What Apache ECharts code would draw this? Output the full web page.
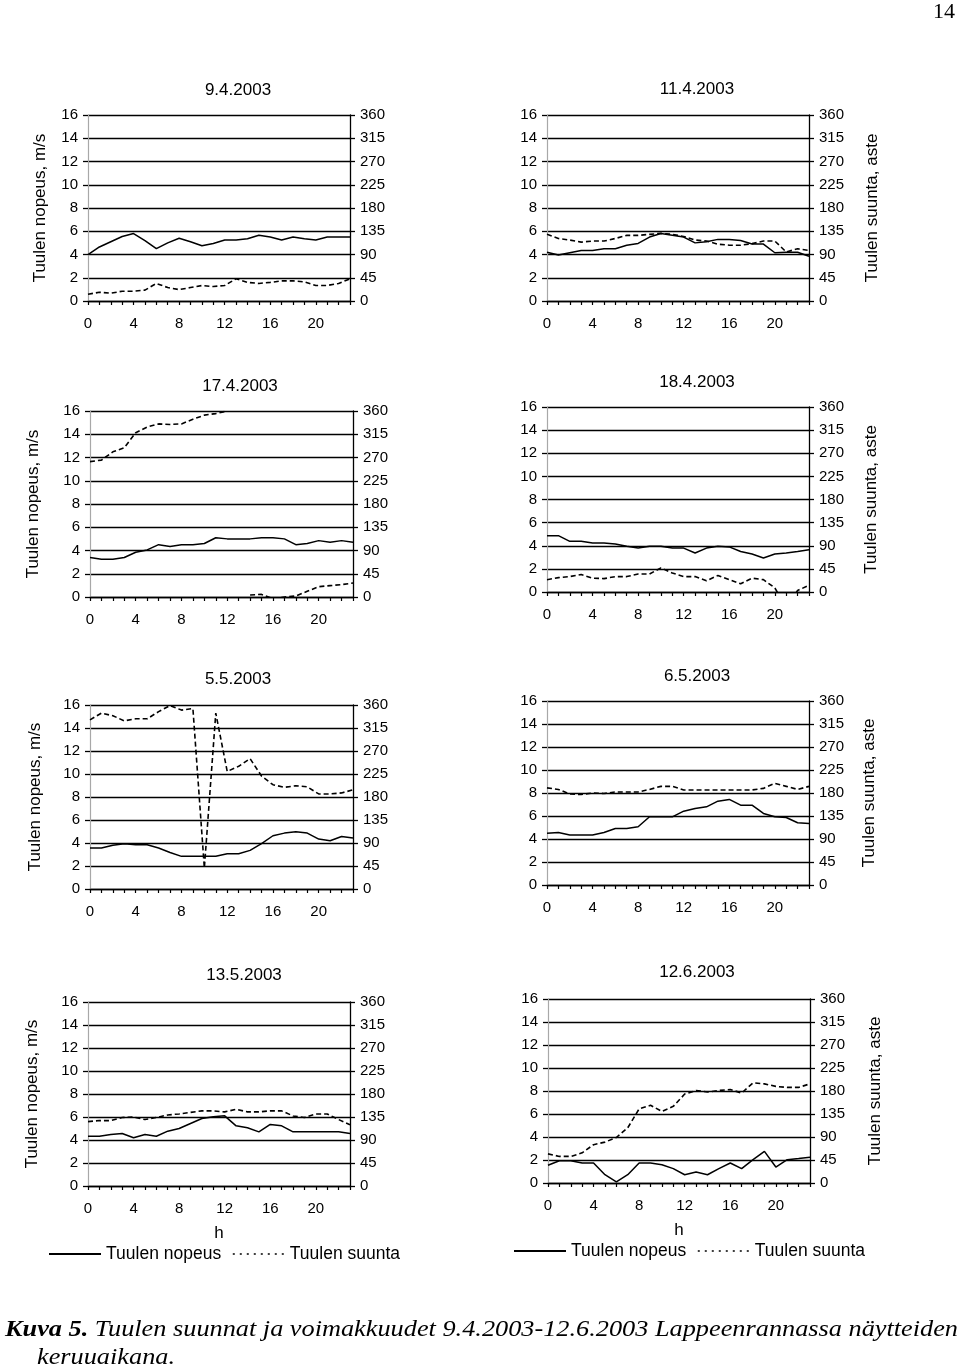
<!DOCTYPE html>
<html>
<head>
<meta charset="utf-8">
<script src="https://cdn.jsdelivr.net/npm/echarts@6/dist/echarts.min.js"></script>
<style>
html,body{margin:0;padding:0;background:#fff;}
#c{position:absolute;left:0;top:0;width:960px;height:1368px;}
.cap{position:absolute;font-family:"Liberation Serif","Times New Roman",serif;font-style:italic;color:#000;white-space:nowrap;transform-origin:0 50%;}
#pg{position:absolute;left:933px;top:-2px;font-family:"Liberation Serif","Times New Roman",serif;font-size:22px;color:#000;}
</style>
</head>
<body>
<div id="c"></div>
<div id="pg">14</div>
<div id="cap1" class="cap" style="left:5px;top:1315px;font-size:24px;"><b>Kuva 5.</b> Tuulen suunnat ja voimakkuudet 9.4.2003-12.6.2003 Lappeenrannassa näytteiden</div>
<div id="cap2" class="cap" style="left:37px;top:1343px;font-size:24px;">keruuaikana.</div>
<script>
// ---- data ----
const hours = ['0','1','2','3','4','5','6','7','8','9','10','11','12','13','14','15','16','17','18','19','20','21','22','23'];
const leftTicks = [0,2,4,6,8,10,12,14,16];
const rightTicks = [0,45,90,135,180,225,270,315,360];
const titles = ['9.4.2003','11.4.2003','17.4.2003','18.4.2003','5.5.2003','6.5.2003','13.5.2003','12.6.2003'];

const speed_0904 = [4.0,4.65,5.1,5.55,5.8,5.2,4.5,5.0,5.4,5.1,4.75,4.95,5.25,5.25,5.35,5.65,5.5,5.25,5.5,5.35,5.25,5.5,5.5,5.5];
const dir_0904   = [13,17,15,19,19,21,34,26,22,26,30,28,30,43,36,34,36,39,39,37,30,30,34,43];

const speed_1104 = [4.2,3.95,4.15,4.35,4.35,4.5,4.5,4.8,4.95,5.5,5.8,5.65,5.5,5.0,5.1,5.3,5.3,5.2,4.9,4.9,4.15,4.2,4.2,3.85];
const dir_1104   = [129,121,118,114,116,116,121,127,127,129,131,129,125,118,116,110,108,108,111,116,116,95,101,98];

const speed_1704 = [3.4,3.25,3.25,3.4,3.85,4.05,4.5,4.35,4.5,4.5,4.6,5.1,5.0,5.0,5.0,5.1,5.1,5.0,4.5,4.6,4.85,4.7,4.85,4.7];
const dir_1704   = [262,265,281,289,318,329,335,334,335,344,352,355,360,null,4,5,-3,0,2,11,20,22,24,27];

const speed_1804 = [4.87,4.87,4.38,4.38,4.24,4.24,4.15,3.95,3.8,3.95,3.95,3.8,3.8,3.37,3.8,3.95,3.9,3.5,3.28,2.94,3.28,3.37,3.5,3.66];
const dir_1804   = [24,28,30,34,27,26,30,30,35,35,47,37,30,30,22,32,24,16,27,24,8,-30,3,13];

const speed_0505 = [3.56,3.56,3.8,3.94,3.85,3.85,3.56,3.18,2.84,2.84,2.84,2.84,3.07,3.07,3.36,3.94,4.63,4.86,4.98,4.86,4.34,4.2,4.57,4.43];
const dir_0505   = [331,344,339,329,333,333,347,359,350,353,41,344,230,240,255,221,204,199,202,200,186,186,188,194];

const speed_0605 = [4.49,4.57,4.34,4.34,4.34,4.57,4.92,4.92,5.06,5.93,5.93,5.93,6.42,6.66,6.8,7.29,7.44,6.94,6.94,6.22,5.93,5.87,5.41,5.35];
const dir_0605   = [190,187,178,177,180,179,182,182,182,187,193,193,186,186,186,186,186,186,186,189,199,193,187,193];

const speed_1305 = [4.33,4.33,4.48,4.56,4.19,4.48,4.33,4.77,5.0,5.44,5.87,6.02,6.1,5.23,5.06,4.71,5.35,5.23,4.71,4.71,4.71,4.71,4.71,4.56];
const dir_1305   = [126,128,128,134,135,130,134,139,141,144,147,147,145,150,145,145,147,147,137,134,141,141,130,120];

const speed_1206 = [1.54,1.94,1.94,1.74,1.74,0.72,0.09,0.72,1.74,1.74,1.59,1.25,0.72,0.96,0.72,1.25,1.74,1.25,2.03,2.75,1.39,2.03,2.12,2.23];
const dir_1206   = [57,52,52,59,75,80,89,108,145,152,140,150,174,181,178,181,183,176,196,194,189,187,187,194];

const speedSeries = [speed_0904,speed_1104,speed_1704,speed_1804,speed_0505,speed_0605,speed_1305,speed_1206];
const dirSeries   = [dir_0904,dir_1104,dir_1704,dir_1804,dir_0505,dir_0605,dir_1305,dir_1206];
const nameSpeed = 'Tuulen nopeus';
const nameDir = 'Tuulen suunta';
const leftName = 'Tuulen nopeus, m/s';
const rightName = 'Tuulen suunta, aste';

// ---- layout (styles/positions only) ----
const L = [
  {left:88, top:115, w:262, h:186, tx:233, ty:87,  lg:39, rg:null},
  {left:547,top:115, w:262, h:186, tx:692, ty:86,  lg:null, rg:55},
  {left:90, top:411, w:263, h:186, tx:235, ty:383, lg:48, rg:null},
  {left:547,top:407, w:262, h:185, tx:692, ty:379, lg:null, rg:54},
  {left:90, top:705, w:263, h:184, tx:233, ty:676, lg:46, rg:null},
  {left:547,top:701, w:262, h:184, tx:692, ty:673, lg:null, rg:52},
  {left:88, top:1002,w:262, h:184, tx:239, ty:972, lg:47, rg:null, xname:true},
  {left:548,top:999, w:262, h:184, tx:692, ty:969, lg:null, rg:57, xname:true}
];
const FONT = "'Liberation Sans', Arial, sans-serif";
const BLACK = '#000';

const grids=[], xAxes=[], yAxes=[], series=[], titleArr=[];
L.forEach((p,i)=>{
  grids.push({left:p.left, top:p.top, width:p.w, height:p.h, containLabel:false});
  titleArr.push({text:titles[i], left:p.tx, top:p.ty-10, textAlign:'center',
    textStyle:{fontFamily:FONT,fontSize:17,fontWeight:'normal',color:BLACK}});
  xAxes.push({type:'category', gridIndex:i, data:hours, boundaryGap:false,
    name: p.xname ? 'h' : '', nameLocation:'middle', nameGap:39,
    nameTextStyle:{fontFamily:FONT,fontSize:17,color:BLACK},
    axisLine:{show:true,lineStyle:{color:BLACK,width:1.3}},
    axisTick:{show:true,interval:0,inside:false,length:4,lineStyle:{color:BLACK,width:1.2}},
    axisLabel:{show:true,interval:3,margin:15,fontFamily:FONT,fontSize:15,color:BLACK},
    splitLine:{show:false}});
  yAxes.push({type:'value', gridIndex:i, position:'left', min:leftTicks[0], max:leftTicks[leftTicks.length-1], interval:leftTicks[1]-leftTicks[0],
    name: p.lg!==null ? leftName : '', nameLocation:'middle', nameGap: p.lg!==null ? p.lg : 0, nameRotate:90,
    nameTextStyle:{fontFamily:FONT,fontSize:17,color:BLACK},
    axisLine:{show:true,lineStyle:{color:'#a8a8a8',width:1.2}},
    axisTick:{show:true,inside:false,length:5,lineStyle:{color:BLACK,width:1.3}},
    axisLabel:{show:true,margin:10,fontFamily:FONT,fontSize:15,color:BLACK},
    splitLine:{show:true,lineStyle:{color:BLACK,width:1.3}}});
  yAxes.push({type:'value', gridIndex:i, position:'right', min:rightTicks[0], max:rightTicks[rightTicks.length-1], interval:rightTicks[1]-rightTicks[0],
    name: p.rg!==null ? rightName : '', nameLocation:'middle', nameGap: p.rg!==null ? p.rg : 0, nameRotate:90,
    nameTextStyle:{fontFamily:FONT,fontSize:17,color:BLACK},
    axisLine:{show:true,lineStyle:{color:BLACK,width:1.3}},
    axisTick:{show:true,inside:false,length:5,lineStyle:{color:BLACK,width:1.3}},
    axisLabel:{show:true,margin:10,fontFamily:FONT,fontSize:15,color:BLACK},
    splitLine:{show:false}});
  series.push({name:nameSpeed, type:'line', xAxisIndex:i, yAxisIndex:2*i, data:speedSeries[i],
    symbol:'none', showSymbol:false, connectNulls:false, clip:true, silent:true,
    lineStyle:{color:BLACK,width:1.5,type:'solid'}, itemStyle:{color:BLACK}});
  series.push({name:nameDir, type:'line', xAxisIndex:i, yAxisIndex:2*i+1, data:dirSeries[i],
    symbol:'none', showSymbol:false, connectNulls:false, clip:true, silent:true,
    lineStyle:{color:BLACK,width:1.6,type:[5,3]}, itemStyle:{color:BLACK}});
});

const legendCommon = {orient:'horizontal', itemWidth:52, itemHeight:10, itemGap:11, padding:0,
  data:[{name:nameSpeed}, {name:nameDir, lineStyle:{type:[2,5],width:1.3}}], selectedMode:false,
  itemStyle:{opacity:0, borderWidth:0},
  textStyle:{fontFamily:FONT,fontSize:17.5,color:BLACK}};

const chart = echarts.init(document.getElementById('c'), null, {renderer:'canvas'});
chart.setOption({
  animation:false,
  backgroundColor:'#fff',
  title:titleArr,
  grid:grids, xAxis:xAxes, yAxis:yAxes, series:series,
  legend:[
    Object.assign({left:48, top:1245}, legendCommon),
    Object.assign({left:513, top:1242}, legendCommon)
  ]
});

// fit caption line to reference width
const c1 = document.getElementById('cap1');
const w = c1.getBoundingClientRect().width;
const target = 953;
const s = target / w;
c1.style.transform = 'scaleX(' + s + ')';
document.getElementById('cap2').style.transform = 'scaleX(' + s + ')';
</script>
</body>
</html>
